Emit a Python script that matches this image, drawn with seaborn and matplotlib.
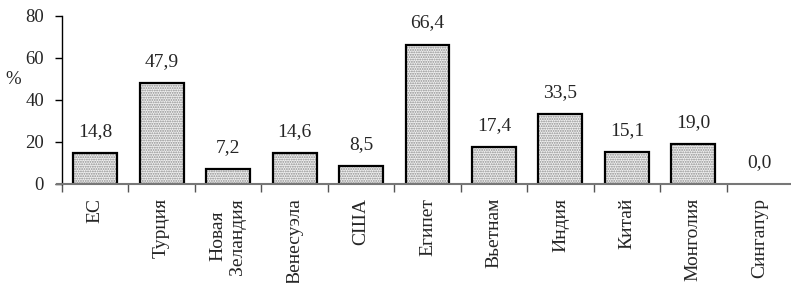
import matplotlib
matplotlib.use("Agg")
import matplotlib.pyplot as plt
import seaborn as sns
import pandas as pd

# Chart data
countries = ['ЕС', 'Турция', 'Новая\nЗеландия', 'Венесуэла', 'США', 'Египет',
             'Вьетнам', 'Индия', 'Китай', 'Монголия', 'Сингапур']
shares = [14.8, 47.9, 7.2, 14.6, 8.5, 66.4, 17.4, 33.5, 15.1, 19.0, 0.0]
y_ticks = [0, 20, 40, 60, 80]

df = pd.DataFrame({'country': countries, 'share': shares})

sns.set_style('white')
plt.rcParams['font.family'] = ['Liberation Serif', 'DejaVu Serif']
plt.rcParams['hatch.linewidth'] = 0.9

fig = plt.figure(figsize=(7.91, 2.83), dpi=100)
ax = fig.add_axes([62 / 791, 99 / 283, 731 / 791, 168 / 283])

# dotted fill layer
sns.barplot(data=df, x='country', y='share', width=0.66, color='#f0f0f0',
            edgecolor='#8c8c8c', linewidth=0, ax=ax)
for p in ax.patches:
    p.set_hatch('.......')
n = len(ax.patches)
# black outline layer
sns.barplot(data=df, x='country', y='share', width=0.66, fill=False,
            edgecolor='black', linewidth=1.6, ax=ax)
for p in ax.patches[n:]:
    if p.get_height() == 0:
        p.set_linewidth(0)

# value labels
for i, v in enumerate(shares):
    ax.annotate(f'{v:.1f}'.replace('.', ','), xy=(i, v), xytext=(0, 15.5),
                textcoords='offset points', ha='center', va='center',
                fontsize=14)

ax.set_xlim(-0.5, len(countries) - 0.5)
ax.set_ylim(0, 80)
ax.set_yticks(y_ticks)
ax.set_yticklabels([str(t) for t in y_ticks], fontsize=13.5)
ax.tick_params(axis='y', direction='out', length=5, width=1, pad=8,
               left=True, color='black')

ax.set_xticks(range(len(countries)))
ax.set_xticklabels(countries, rotation=90, fontsize=14, multialignment='center')
ax.set_xticks([i - 0.5 for i in range(len(countries) + 1)], minor=True)
ax.tick_params(axis='x', which='major', length=0, pad=10)
ax.tick_params(axis='x', which='minor', direction='out', length=6, width=1,
               bottom=True, color='#555555')

ax.set_xlabel('')
ax.set_ylabel('%', rotation=0, fontsize=13.5, va='center', ha='center')
ax.yaxis.set_label_coords(-0.067, 0.62)

sns.despine(ax=ax, top=True, right=True)
ax.spines['left'].set_color('black')
ax.spines['left'].set_linewidth(1)
ax.spines['bottom'].set_color('#777777')
ax.spines['bottom'].set_linewidth(1.5)
ax.spines['bottom'].set_bounds(-0.58, len(countries) - 0.5)

fig.savefig('out.png', dpi=100)
